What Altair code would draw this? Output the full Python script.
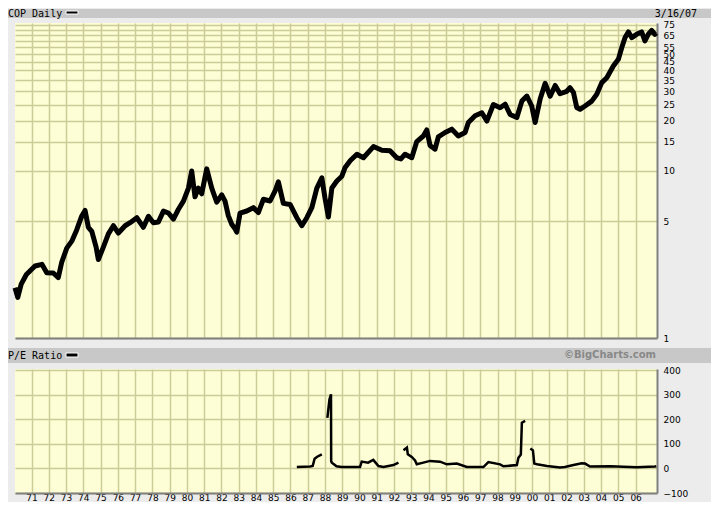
import altair as alt
import pandas as pd

# ---------------- data ----------------
price_years = [1970.04, 1970.20, 1970.40, 1970.70, 1971.20, 1971.60, 1971.88, 1972.26, 1972.55, 1972.75,
               1973.04, 1973.33, 1973.62, 1973.90, 1974.10, 1974.29, 1974.49, 1974.74, 1974.87, 1975.16,
               1975.45, 1975.74, 1976.03, 1976.42, 1976.71, 1977.10, 1977.48, 1977.77, 1978.06, 1978.35,
               1978.64, 1978.93, 1979.22, 1979.51, 1979.80, 1980.09, 1980.28, 1980.47, 1980.66, 1980.86,
               1981.15, 1981.44, 1981.73, 1982.02, 1982.21, 1982.40, 1982.60, 1982.79, 1982.89, 1983.08,
               1983.47, 1983.85, 1984.14, 1984.43, 1984.82, 1985.11, 1985.30, 1985.59, 1985.98, 1986.37,
               1986.66, 1986.95, 1987.24, 1987.53, 1987.82, 1988.00, 1988.20, 1988.40, 1988.69, 1988.98,
               1989.17, 1989.46, 1989.85, 1990.23, 1990.81, 1991.30, 1991.77, 1992.16, 1992.40, 1992.64,
               1993.03, 1993.32, 1993.70, 1993.90, 1994.09, 1994.38, 1994.57, 1994.96, 1995.35, 1995.73,
               1996.12, 1996.31, 1996.70, 1997.09, 1997.38, 1997.76, 1998.15, 1998.44, 1998.73, 1999.12,
               1999.41, 1999.70, 1999.98, 2000.18, 2000.47, 2000.76, 2001.05, 2001.34, 2001.62, 2002.01,
               2002.20, 2002.40, 2002.59, 2002.78, 2003.07, 2003.46, 2003.75, 2004.04, 2004.33, 2004.71,
               2005.00, 2005.20, 2005.39, 2005.58, 2005.78, 2006.06, 2006.35, 2006.54, 2006.74, 2006.93,
               2007.12, 2007.20]
price_values = [2.00, 1.75, 2.10, 2.40, 2.70, 2.76, 2.46, 2.45, 2.30, 2.85,
                3.45, 3.80, 4.45, 5.35, 5.80, 4.60, 4.35, 3.50, 2.95, 3.50,
                4.20, 4.70, 4.25, 4.70, 4.90, 5.25, 4.60, 5.35, 4.90, 4.95,
                5.75, 5.60, 5.15, 5.90, 6.60, 7.90, 10.0, 7.00, 7.90, 7.30,
                10.3, 7.90, 6.50, 7.20, 6.60, 5.40, 4.80, 4.50, 4.30, 5.60,
                5.76, 6.03, 5.64, 6.77, 6.61, 7.59, 8.60, 6.40, 6.30, 5.25,
                4.70, 5.25, 6.03, 7.90, 9.10, 6.90, 5.30, 7.90, 8.70, 9.30,
                10.5, 11.5, 12.6, 12.0, 14.0, 13.3, 13.2, 12.0, 11.8, 12.6,
                12.0, 15.0, 16.2, 17.6, 14.2, 13.5, 16.0, 17.0, 17.8, 16.2,
                17.0, 19.5, 21.4, 22.3, 19.9, 25.0, 23.9, 25.1, 21.8, 20.9,
                26.2, 28.1, 24.5, 19.5, 27.0, 33.5, 28.0, 32.5, 29.0, 30.0,
                31.5, 29.5, 24.0, 23.4, 24.5, 26.2, 28.8, 33.8, 36.2, 42.5,
                46.6, 54.8, 62.9, 68.0, 62.9, 65.8, 68.0, 60.0, 66.0, 69.5,
                65.8, 67.0]

pe_years = [1986.37, 1987.14, 1987.29, 1987.40, 1987.55, 1987.82,
            1988.14, 1988.26, 1988.35, 1988.36, 1988.40, 1988.67, 1988.96, 1990.03, 1990.13, 1990.50,
            1990.80, 1991.10, 1991.39, 1991.97, 1992.26,
            1992.55, 1992.75, 1992.80, 1993.03, 1993.22, 1993.32, 1993.70, 1994.09, 1994.67, 1995.06,
            1995.64, 1996.22, 1997.18, 1997.47, 1998.15, 1998.34, 1999.12, 1999.21, 1999.35, 1999.41,
            1999.60,
            1999.90, 2000.05, 2000.13, 2000.29, 2000.87, 2001.62, 2001.90, 2002.40, 2002.88, 2003.07,
            2003.36, 2004.52, 2006.06, 2007.12, 2007.20]
pe_values = [6, 8, 10, 40, 48, 58,
             207, 282, 303, 30, 24, 9, 6, 6, 28, 24,
             35, 10, 6, 14, 24,
             74, 85, 58, 47, 33, 17, 24, 31, 28, 17,
             20, 6, 6, 26, 17, 9, 14, 44, 57, 187,
             194,
             82, 74, 20, 17, 10, 4, 6, 14, 21, 20,
             8, 9, 5, 8, 9]
pe_segments = [1] * 6 + [2] * 15 + [3] * 21 + [4] * 15

year_ticks = list(range(1971, 2007))
price_ticks = [1, 5, 10, 15, 20, 25, 30, 35, 40, 45, 50, 55, 60, 65, 70, 75]
pe_ticks = [-100, 0, 100, 200, 300, 400]

# ---------------- layout / style ----------------
W, H1, H2 = 642, 315, 124
X_DOMAIN = [1970.04, 2007.24]
GRID = "#cccc99"
EDGE = "#808080"
BAR = "#c8c8c8"
MONO = "DejaVu Sans Mono"
SANS = "DejaVu Sans"

price_df = pd.DataFrame({"year": price_years, "price": price_values})
pe_df = pd.DataFrame({"year": pe_years, "pe": pe_values, "seg": pe_segments})
one = alt.InlineData(values=[{"k": 0}])


def deco_rect(x1, x2, y1, y2, color, stroke=None):
    kw = dict(color=color)
    if stroke:
        kw.update(stroke=stroke, strokeWidth=1)
    return alt.Chart(one).mark_rect(**kw).encode(
        x=alt.value(x1), x2=alt.value(x2), y=alt.value(y1), y2=alt.value(y2))


def deco_text(txt, x, y, align="left", font=MONO, size=10, color="black", weight="normal"):
    return alt.Chart(one).mark_text(text=txt, align=align, baseline="alphabetic", font=font,
                                    fontSize=size, color=color, fontWeight=weight).encode(
        x=alt.value(x), y=alt.value(y))


x_scale = alt.Scale(domain=X_DOMAIN, nice=False, zero=False)

price_line = alt.Chart(price_df).mark_line(color="black", strokeWidth=5, strokeJoin="round").encode(
    x=alt.X("year:Q", scale=x_scale,
            axis=alt.Axis(values=year_ticks, labels=False, ticks=False, grid=True, gridColor=GRID,
                          gridWidth=1.5, domain=True, domainColor=EDGE, domainWidth=2, title=None)),
    y=alt.Y("price:Q", scale=alt.Scale(type="log", domain=[1, 76.9], nice=False),
            axis=alt.Axis(orient="right", values=price_ticks, grid=True, gridColor=GRID, gridWidth=1.5,
                          ticks=False, domain=True, domainColor=EDGE, domainWidth=2, title=None,
                          labelOverlap=False, labelFlush=False, labelAlign="left", labelBaseline="middle",
                          labelPadding=6, labelFont=SANS, labelFontSize=9, labelColor="black",
                          labelExpr="datum.value == 60 || datum.value == 70 ? '' : datum.label")),
)

top = alt.layer(
    deco_rect(-7, 696, -14, -5, BAR),
    deco_text("COP Daily", -7, -6.5),
    deco_rect(51, 63, -12, -9, "black", stroke="white"),
    deco_text("3/16/07", 682, -6.5, align="right"),
    price_line,
).properties(width=W, height=H1)

pe_line = alt.Chart(pe_df).mark_line(color="black", strokeWidth=2.5).encode(
    x=alt.X("year:Q", scale=x_scale,
            axis=alt.Axis(values=year_ticks, ticks=False, grid=True, gridColor=GRID, gridWidth=1.5,
                          domain=True, domainColor=EDGE, domainWidth=2, title=None,
                          labelExpr="format(datum.value % 100, '02d')", labelFont=SANS,
                          labelFontSize=9, labelColor="black", labelPadding=0, labelOverlap=False,
                          labelFlush=False, labelBaseline="top")),
    y=alt.Y("pe:Q", scale=alt.Scale(domain=[-100, 406], nice=False, zero=False),
            axis=alt.Axis(orient="right", values=pe_ticks, grid=True, gridColor=GRID, gridWidth=1.5,
                          ticks=False, domain=True, domainColor=EDGE, domainWidth=2, title=None,
                          labelOverlap=False, labelFlush=False, labelAlign="left", labelBaseline="middle",
                          labelPadding=6, labelFont=SANS, labelFontSize=9, labelColor="black")),
    detail="seg:N",
)

bottom = alt.layer(
    deco_rect(-7, 696, -21, -6, BAR),
    deco_text("P/E Ratio", -7, -10.5),
    deco_rect(51, 63, -16, -12, "black", stroke="white"),
    deco_text("©BigCharts.com", 641, -11, align="right", font=SANS, size=10, color="#888888",
              weight="bold"),
    pe_line,
).properties(width=W, height=H2)

chart = alt.vconcat(top, bottom, spacing=31, bounds="flush").properties(
    padding=0, background="#ececec"
).configure_view(fill="#fefed6", stroke=None)

chart.save("out.html", embed_options={"renderer": "svg", "actions": False})
